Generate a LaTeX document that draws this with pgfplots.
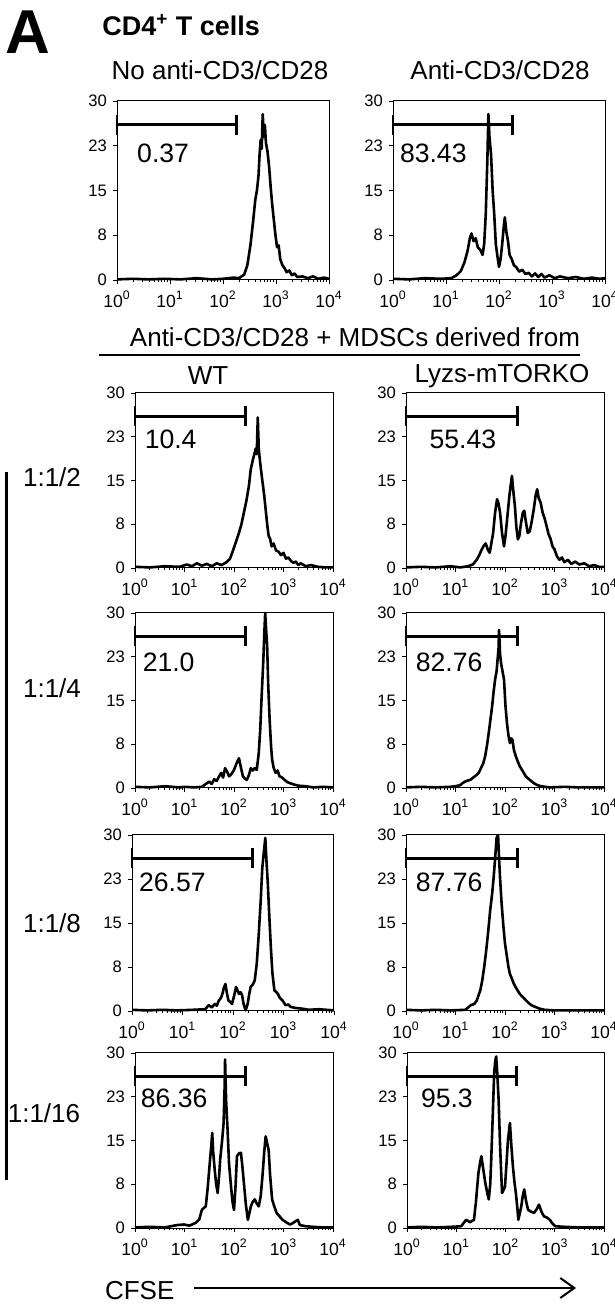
\documentclass[border=0pt]{standalone}
\usepackage{fontspec}
\setmainfont{Liberation Sans}
\usepackage{pgfplots}
\usepackage{pgfplotstable}
\pgfplotsset{compat=1.18}
\usetikzlibrary{arrows.meta}

% histograms, x in log10(CFSE), y in counts
\pgfplotstableread{
x y
0 0.1
0.3 0.2
0.6 0.1
0.9 0.2
1.2 0.1
1.5 0.3
1.8 0.1
2.0 0.2
2.2 0.4
2.3 0.3
2.4 0.9
2.46 2.5
2.52 6
2.57 10
2.61 13.5
2.64 15
2.67 17.5
2.69 21
2.71 23.5
2.73 22
2.75 27.8
2.77 24
2.79 26
2.81 23
2.84 21.5
2.87 19
2.9 15.5
2.93 12.5
2.96 10
2.99 7.5
3.02 5.5
3.05 5.8
3.08 3.5
3.12 2.5
3.16 2.0
3.2 1.3
3.25 1.6
3.3 0.8
3.35 1.1
3.4 0.5
3.5 0.6
3.6 0.3
3.7 0.6
3.8 0.2
3.9 0.4
4.0 0.2
}\tNoStim

\pgfplotstableread{
x y
0 0.2
0.3 0.1
0.6 0.3
0.9 0.2
1.1 0.3
1.2 0.8
1.28 1.5
1.35 3
1.41 5
1.45 7
1.48 7.8
1.52 6.5
1.56 7
1.6 5.5
1.65 5
1.69 4.2
1.72 6
1.75 11
1.78 20
1.8 27.8
1.82 24
1.85 21
1.88 15
1.91 11
1.94 6
1.97 4
2.0 2.2
2.03 3.5
2.06 6
2.09 9
2.11 10.5
2.14 8
2.17 6.5
2.2 4.2
2.24 3.5
2.28 2.5
2.33 2.1
2.38 1.4
2.44 1.7
2.5 1.0
2.56 1.2
2.62 0.6
2.68 1.1
2.74 0.5
2.8 1.0
2.86 0.4
2.95 0.8
3.05 0.3
3.15 0.6
3.3 0.3
3.45 0.5
3.6 0.2
3.75 0.4
3.9 0.2
4.0 0.3
}\tStim

\pgfplotstableread{
x y
0 0.2
0.3 0.1
0.6 0.3
0.9 0.2
1.05 0.6
1.15 0.3
1.25 0.8
1.35 0.4
1.45 0.7
1.55 0.3
1.65 0.8
1.75 0.5
1.85 1.0
1.92 1.6
1.98 3
2.04 4.5
2.1 6
2.15 7.5
2.2 9.5
2.25 11.5
2.3 14
2.34 17
2.38 18.5
2.41 19.5
2.44 20.5
2.46 19.5
2.48 25.8
2.5 20.5
2.52 18.7
2.55 16.5
2.58 14.5
2.61 12.5
2.64 10
2.67 7.5
2.7 5.5
2.73 5
2.76 3.7
2.8 4.2
2.85 3.0
2.9 2.8
2.95 2.2
3.0 2.6
3.05 1.6
3.1 1.8
3.15 1.2
3.2 0.9
3.25 1.1
3.3 0.5
3.35 0.8
3.45 0.3
3.55 0.5
3.7 0.2
3.85 0.1
4.0 0.1
}\tWTa

\pgfplotstableread{
x y
0 0.1
0.3 0.2
0.6 0.1
0.9 0.3
1.1 0.1
1.25 0.3
1.35 0.6
1.42 1.3
1.48 2.2
1.52 3
1.57 3.8
1.61 4.2
1.65 3.2
1.69 2.6
1.72 4
1.76 6
1.8 9.5
1.84 11.8
1.87 11
1.9 9.5
1.94 6
1.98 3.7
2.01 5.5
2.05 9
2.09 12.5
2.12 14.5
2.14 15.8
2.17 13
2.2 10.6
2.23 7
2.26 4.9
2.29 5.5
2.32 7.5
2.36 9.5
2.39 9.8
2.42 8
2.46 6
2.5 6.3
2.54 8
2.58 10
2.62 12.5
2.65 13.5
2.68 12
2.72 11.2
2.76 9.5
2.8 8.5
2.84 7.2
2.88 5.8
2.92 5
2.96 3.7
3.0 3.2
3.05 2.0
3.1 1.4
3.15 1.8
3.2 1.0
3.27 1.4
3.34 0.7
3.42 1.1
3.5 0.6
3.6 0.8
3.7 0.3
3.8 0.5
3.9 0.2
4.0 0.2
}\tKOa

\pgfplotstableread{
x y
0 0.2
0.3 0.1
0.6 0.3
0.9 0.1
1.0 0.2
1.2 0.1
1.35 0.2
1.45 0.8
1.5 1.1
1.55 0.7
1.6 1.5
1.65 1.2
1.7 2.0
1.74 2.6
1.78 1.8
1.82 3.4
1.86 2.8
1.9 2.0
1.95 2.4
2.0 3.1
2.05 4.2
2.1 5.1
2.14 3.5
2.18 2.0
2.22 1.6
2.26 1.4
2.3 2.2
2.34 3.4
2.38 3.0
2.42 3.4
2.46 3.1
2.5 6
2.53 10
2.56 16
2.59 21.4
2.61 26
2.63 30
2.65 27
2.67 24.3
2.69 18
2.72 11.7
2.75 7
2.77 4.9
2.8 3.5
2.84 2.6
2.88 3.0
2.92 2.0
2.97 1.8
3.02 1.4
3.08 1.0
3.14 0.8
3.21 0.6
3.3 0.4
3.45 0.3
3.6 0.1
3.8 0.2
4.0 0.1
}\tWTb

\pgfplotstableread{
x y
0 0.1
0.3 0.2
0.6 0.1
0.9 0.2
1.0 0.3
1.1 0.5
1.15 0.9
1.22 1.2
1.3 1.4
1.36 1.8
1.42 2.2
1.47 2.6
1.52 3.5
1.56 4.2
1.6 5.5
1.64 7.5
1.68 10
1.71 12
1.74 14
1.77 16.5
1.8 18.6
1.83 20
1.85 22
1.87 24
1.88 27.1
1.9 23
1.92 21.4
1.95 20
1.98 18.6
2.01 14
2.04 11.1
2.07 9
2.1 7.7
2.12 8.5
2.15 8.3
2.18 6.5
2.22 5.4
2.26 4.5
2.3 3.7
2.35 3
2.42 2.0
2.5 1.4
2.57 0.9
2.65 0.5
2.73 0.3
2.9 0.1
3.2 0.2
3.5 0.1
4.0 0.1
}\tKOb

\pgfplotstableread{
x y
0 0.2
0.3 0.1
0.6 0.2
0.9 0.1
1.2 0.2
1.45 0.3
1.52 1.0
1.58 0.6
1.64 1.2
1.68 0.9
1.72 1.8
1.76 2.2
1.79 2.9
1.82 4.0
1.85 4.6
1.88 3.0
1.91 1.8
1.95 1.5
1.98 1.2
2.02 2.5
2.06 4.1
2.09 3.5
2.12 2.9
2.15 3.2
2.18 2.7
2.21 1.2
2.25 0.1
2.29 1.2
2.32 2.8
2.35 4.1
2.39 4.5
2.43 5.2
2.47 8
2.51 13.1
2.55 19
2.58 24.4
2.61 27
2.64 29.5
2.66 26
2.69 21.6
2.72 16
2.75 10.8
2.78 6.5
2.82 3.5
2.85 3.3
2.89 2.9
2.93 2.2
2.98 1.8
3.04 1.0
3.1 1.1
3.14 0.7
3.25 0.5
3.37 0.4
3.5 0.2
3.7 0.3
4.0 0.1
}\tWTc

\pgfplotstableread{
x y
0 0.2
0.3 0.1
0.6 0.2
0.9 0.1
1.2 0.2
1.31 1.0
1.38 1.2
1.43 1.8
1.5 3.5
1.54 5.2
1.58 7.5
1.62 10.3
1.66 13.5
1.7 17.1
1.74 20
1.77 22.7
1.8 26
1.83 29.5
1.86 30
1.88 26
1.9 22.7
1.93 18.5
1.97 14.2
2.0 11.5
2.04 9.2
2.07 7.5
2.1 6.3
2.14 5.5
2.18 4.6
2.24 3.7
2.3 2.9
2.38 2.2
2.46 1.5
2.53 1.0
2.61 0.7
2.7 0.4
2.8 0.2
3.0 0.1
3.5 0.1
4.0 0.1
}\tKOc

\pgfplotstableread{
x y
0 0.1
0.3 0.2
0.6 0.1
0.85 0.5
0.99 0.6
1.1 0.4
1.23 0.9
1.3 1.5
1.35 3.1
1.4 3.5
1.43 3.7
1.47 7
1.51 11.1
1.54 14
1.56 16.3
1.58 13
1.61 10
1.64 7.5
1.67 6
1.7 9
1.72 11.7
1.76 15
1.79 18
1.81 24
1.82 28.9
1.84 22
1.87 16.9
1.9 11
1.94 7.1
1.97 4.5
2.0 3.1
2.03 7
2.06 12.3
2.1 12.8
2.14 12.9
2.17 10.5
2.2 7.7
2.24 4
2.28 1.4
2.31 2.5
2.34 3.7
2.38 4.5
2.42 4.9
2.46 4.2
2.5 3.7
2.54 5.5
2.58 9.4
2.61 13
2.64 15.7
2.67 14.5
2.7 13.4
2.73 9
2.77 4.9
2.81 3.8
2.86 2.6
2.92 2.0
2.98 1.4
3.05 1.0
3.13 0.6
3.2 0.9
3.25 1.2
3.29 1.4
3.33 0.5
3.45 0.3
3.6 0.2
3.8 0.1
4.0 0.1
}\tWTd

\pgfplotstableread{
x y
0 0.1
0.3 0.2
0.6 0.1
0.9 0.2
1.1 0.3
1.2 1.4
1.28 1.0
1.36 1.4
1.4 4.5
1.45 9.4
1.49 11.5
1.51 12.3
1.55 10
1.59 7.7
1.63 6
1.66 4.9
1.69 7.5
1.71 11.7
1.74 19
1.77 26.6
1.79 28.5
1.81 29.4
1.83 27
1.86 22
1.89 14
1.93 6
1.96 6.5
1.99 7.1
2.02 11
2.05 15.1
2.09 18
2.12 14
2.15 10.6
2.18 8
2.21 6
2.24 3.5
2.26 1.4
2.29 2.5
2.32 3.7
2.35 5.5
2.38 6.6
2.42 4.5
2.46 3.1
2.52 2.8
2.58 2.6
2.63 3.2
2.68 4.0
2.73 2.8
2.78 2.0
2.84 1.8
2.9 1.4
2.95 0.8
3.01 0.3
3.2 0.2
3.5 0.1
4.0 0.1
}\tKOd

\pgfplotsset{
  cfse/.style={
    scale only axis, clip=false,
    xmin=0, xmax=4, ymin=0, ymax=30,
    xtick={0,1,2,3,4},
    xticklabels={10\textsuperscript{0},10\textsuperscript{1},10\textsuperscript{2},10\textsuperscript{3},10\textsuperscript{4}},
    minor xtick={0.301,0.477,0.602,0.699,0.778,0.845,0.903,0.954,
      1.301,1.477,1.602,1.699,1.778,1.845,1.903,1.954,
      2.301,2.477,2.602,2.699,2.778,2.845,2.903,2.954,
      3.301,3.477,3.602,3.699,3.778,3.845,3.903,3.954},
    ytick={0,7.5,15,22.5,30},
    yticklabels={0,8,15,23,30},
    tick align=outside, tick pos=left,
    major tick length=2pt, minor tick length=1.2pt,
    every tick/.style={black, line width=0.4pt},
    axis line style={line width=0.5pt},
    yticklabel style={font=\fontsize{8.3}{9}\selectfont, xshift=0.5pt},
    xticklabel style={font=\fontsize{8.8}{9}\selectfont},
  }
}

% #1,#2 position, #3,#4 size, #5 table, #6 gate end, #7,#8 label position, #9 label
\newcommand{\panel}[9]{%
  \begin{axis}[cfse, at={(#1,#2)}, anchor=south west, width=#3, height=#4]
    \addplot[black, line width=1.3pt, line join=round] table {#5};
    \addplot[black, line width=1.4pt] coordinates {(0,26) (#6,26)};
    \addplot[black, line width=1.4pt] coordinates {(#6,24.3) (#6,27.7)};
    \addplot[black, line width=1.4pt] coordinates {(0,24.3) (0,27.7)};
    \node[font=\fontsize{13.3}{14}\selectfont] at (axis cs:#7,#8) {#9};
  \end{axis}}

\begin{document}
\begin{tikzpicture}
\path[use as bounding box] (0,0) rectangle (307.5pt,656pt);

\node[font=\fontsize{31}{31}\selectfont\bfseries] at (13.75pt,640pt) {A};
\node[anchor=west, inner xsep=0pt, font=\fontsize{13.5}{14}\selectfont\bfseries] at (51pt,643.5pt) {CD4\textsuperscript{+} T cells};
\node[font=\fontsize{13}{14}\selectfont] at (110pt,621pt) {No anti-CD3/CD28};
\node[font=\fontsize{13}{14}\selectfont] at (250pt,621pt) {Anti-CD3/CD28};

\panel{58.5pt}{516pt}{106pt}{89.5pt}{\tNoStim}{2.26}{0.87}{21.3}{0.37}
\panel{196.5pt}{516pt}{106pt}{89.5pt}{\tStim}{2.26}{0.76}{21.3}{83.43}

\node[font=\fontsize{13}{14}\selectfont] at (177.5pt,487.5pt) {Anti-CD3/CD28 + MDSCs derived from};
\draw[line width=1pt] (49.5pt,478.5pt) -- (290pt,478.5pt);
\node[font=\fontsize{13}{14}\selectfont] at (104pt,468pt) {WT};
\node[font=\fontsize{13}{14}\selectfont] at (251pt,468pt) {Lyzs-mTORKO};

\panel{67.5pt}{372pt}{99pt}{87.5pt}{\tWTa}{2.24}{0.72}{22.1}{10.4}
\panel{203pt}{372pt}{99pt}{87.5pt}{\tKOa}{2.26}{1.15}{22.1}{55.43}
\panel{67.5pt}{262pt}{99pt}{87.5pt}{\tWTb}{2.24}{0.68}{21.6}{21.0}
\panel{203pt}{262pt}{99pt}{87.5pt}{\tKOb}{2.26}{0.87}{21.6}{82.76}
\panel{66pt}{150.5pt}{101pt}{88pt}{\tWTc}{2.39}{0.8}{21.9}{26.57}
\panel{203pt}{150.5pt}{99pt}{88pt}{\tKOc}{2.26}{0.87}{21.9}{87.76}
\panel{67.5pt}{42pt}{99pt}{87.5pt}{\tWTd}{2.24}{0.79}{22.3}{86.36}
\panel{203.5pt}{42pt}{98.5pt}{87.5pt}{\tKOd}{2.22}{0.81}{22.3}{95.3}

\node[font=\fontsize{13}{14}\selectfont] at (26pt,417.5pt) {1:1/2};
\node[font=\fontsize{13}{14}\selectfont] at (26pt,312pt) {1:1/4};
\node[font=\fontsize{13}{14}\selectfont] at (26pt,194.5pt) {1:1/8};
\node[font=\fontsize{13}{14}\selectfont] at (22pt,99.5pt) {1:1/16};
\draw[line width=1.5pt] (3pt,420pt) -- (3pt,66pt);

\node[anchor=west, font=\fontsize{13}{14}\selectfont] at (49pt,10.5pt) {CFSE};
\draw[line width=1pt, -{Straight Barb[length=7pt,width=10pt]}] (97pt,12pt) -- (288pt,12pt);
\end{tikzpicture}
\end{document}
